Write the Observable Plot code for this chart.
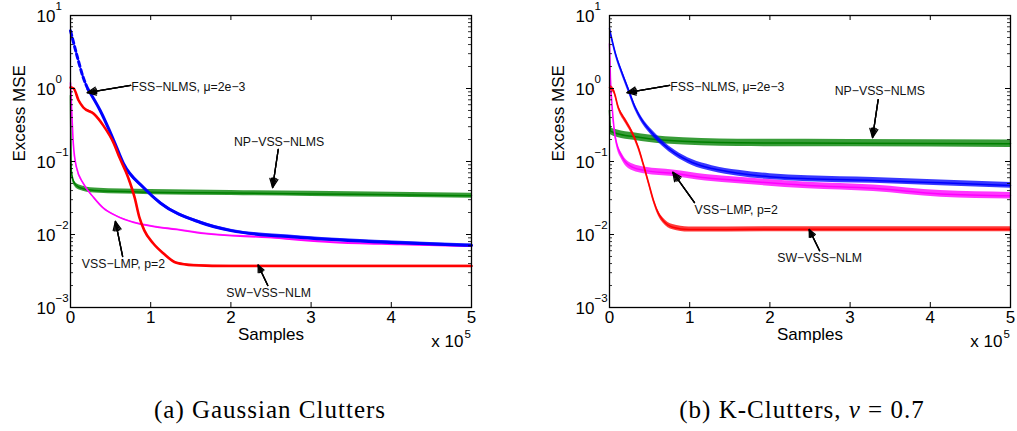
<!DOCTYPE html>
<html>
<head>
<meta charset="utf-8">
<script src="https://cdn.jsdelivr.net/npm/d3@7"></script>
<script src="https://cdn.jsdelivr.net/npm/@observablehq/plot@0.6"></script>
<style>
  body { margin: 0; background: #fff; }
  #fig { position: relative; width: 1017px; height: 431px; overflow: hidden; }
  .panel { position: absolute; top: 0; }
  .cap {
    position: absolute; top: 396px; transform: translateX(-50%);
    font-family: "Liberation Serif", "Times New Roman", serif;
    font-size: 25px; letter-spacing: 1px; white-space: nowrap; color: #000;
  }
</style>
</head>
<body>
<div id="fig">
  <div class="panel" id="pa" style="left:0px"></div>
  <div class="panel" id="pb" style="left:539px"></div>
  <div class="cap" style="left:270px">(a) Gaussian Clutters</div>
  <div class="cap" style="left:802px">(b) K-Clutters, <i>ν</i> = 0.7</div>
</div>
<script>
// Excess MSE learning curves: [sample index, excess MSE]

// (a) Gaussian clutters
const gaussNP = [[0,0.8],[1000,0.075],[5000,0.05],[11000,0.044],[30000,0.040],[100000,0.038],[200000,0.037],[300000,0.036],[400000,0.035],[500000,0.034]];
const gaussLMP = [[0,1.2],[1500,0.5],[3500,0.177],[7500,0.083],[16000,0.05],[29000,0.032],[41000,0.023],[57000,0.018],[79000,0.0146],[103000,0.0129],[132000,0.0117],[166000,0.0103],[246000,0.0091],[328000,0.0078],[411000,0.0073],[500000,0.0069]];
const gaussFSS = [[0,6.2],[8700,2.66],[16000,1.4],[22000,0.97],[37000,0.5],[54000,0.194],[66000,0.094],[91000,0.044],[112000,0.027],[162000,0.0146],[200000,0.0113],[287000,0.0091],[411000,0.0077],[500000,0.0071]];
const gaussSW = [[0,1.03],[4000,1.0],[10000,0.69],[16000,0.55],[29000,0.45],[41000,0.31],[54000,0.177],[61000,0.114],[72000,0.06],[80000,0.032],[86000,0.017],[92000,0.0114],[103000,0.0076],[116000,0.0055],[132000,0.0041],[153000,0.0038],[200000,0.0037],[300000,0.0037],[400000,0.0037],[500000,0.0037]];

// (b) K-clutters, nu = 0.7
const kNP = [[0,0.5],[1500,0.26],[10000,0.24],[30000,0.22],[70000,0.195],[160000,0.18],[300000,0.178],[500000,0.175]];
const kLMP = [[0,4.1],[1200,1.4],[3700,0.5],[7500,0.21],[16000,0.114],[29000,0.083],[45000,0.075],[79000,0.069],[120000,0.060],[161000,0.055],[247000,0.047],[329000,0.043],[413000,0.036],[500000,0.034]];
const kFSS = [[0,6.6],[7500,3.0],[16000,1.6],[24000,0.94],[32000,0.55],[41000,0.36],[54000,0.24],[66000,0.177],[82000,0.129],[103000,0.097],[128000,0.08],[161000,0.069],[200000,0.062],[247000,0.058],[329000,0.055],[413000,0.051],[500000,0.047]];
const kSW = [[0,1.03],[5000,0.94],[11000,0.55],[20000,0.36],[29000,0.24],[36000,0.155],[42000,0.094],[49000,0.05],[55000,0.029],[61000,0.0195],[67000,0.0155],[79000,0.0126],[99000,0.0117],[200000,0.0118],[300000,0.0118],[400000,0.0118],[500000,0.0118]];

// Callout labels [text, x, y] (centred) and their arrows [x1, y1, x2, y2]
const gaussLabels = [["FSS−NLMS, μ=2e−3",147000,1.06],["NP−VSS−NLMS",260000,0.182],["VSS−LMP, p=2",66000,0.0039],["SW−VSS−NLM",247000,0.00156]];
const gaussArrows = [[75000,1.1,21000,0.88],[259000,0.146,252000,0.044],[65000,0.005,56000,0.0151],[246000,0.002,234000,0.0038]];
const kLabels = [["FSS−NLMS, μ=2e−3",147000,1.06],["NP−VSS−NLMS",337000,0.91],["VSS−LMP, p=2",158000,0.0213],["SW−VSS−NLM",262000,0.0047]];
const kArrows = [[75000,1.1,22000,0.88],[335000,0.706,328000,0.213],[106000,0.0274,79000,0.071],[262000,0.006,249000,0.0117]];

// Axis ticks
const yDecades = [1e-3,1e-2,1e-1,1,10];
const yExponents = ["−3","−2","−1","0","1"];
const yMinor = [0.002,0.003,0.004,0.005,0.006,0.007,0.008,0.009,0.02,0.03,0.04,0.05,0.06,0.07,0.08,0.09,0.2,0.3,0.4,0.5,0.6,0.7,0.8,0.9,2,3,4,5,6,7,8,9];
const xTicks = [0,1e5,2e5,3e5,4e5,5e5];
const xTickLabels = ["0","1","2","3","4","5"];

const W = 478, H = 360, ML = 70, MR = 7, MT = 15, MB = 53;
const IW = W - ML - MR, IH = H - MT - MB;

function curveMarks(s) {
  const marks = [];
  const dashed = s.dashUntil ? s.data.filter(d => d[0] <= s.dashUntil) : [];
  const solid = s.dashUntil ? s.data.filter(d => d[0] >= s.dashUntil) : s.data;
  const k = Math.pow(10, s.spread);
  // noise envelope around the mean curve
  marks.push(Plot.areaY(solid, {x: d => d[0], y1: d => d[1] / k, y2: d => d[1] * k, fill: s.color, fillOpacity: 0.78, curve: "monotone-x"}));
  marks.push(Plot.line(solid, {x: d => d[0], y: d => d[1], stroke: s.color, strokeWidth: s.width, curve: "monotone-x"}));
  if (dashed.length) {
    marks.push(Plot.line(dashed, {x: d => d[0], y: d => d[1], stroke: s.color, strokeWidth: s.width, strokeDasharray: "5,3", curve: "monotone-x"}));
  }
  return marks;
}

function panel(series, labels, arrows) {
  const arrowOpts = angle => ({x1: d => d[0], y1: d => d[1], x2: d => d[2], y2: d => d[3], stroke: "black", strokeWidth: 1.3, headLength: 11, headAngle: angle});
  return Plot.plot({
    width: W, height: H,
    marginLeft: ML, marginRight: MR, marginTop: MT, marginBottom: MB,
    x: {domain: [0, 5e5], axis: null},
    y: {type: "log", domain: [1e-3, 10], axis: null},
    style: {fontFamily: "'Liberation Sans', Arial, sans-serif", background: "white", color: "black"},
    marks: [
      ...series.flatMap(curveMarks),
      Plot.frame({stroke: "black", strokeWidth: 1.3}),
      // inward ticks on all four sides
      Plot.tickY(yDecades, {y: d => d, insetRight: IW - 5, stroke: "black"}),
      Plot.tickY(yDecades, {y: d => d, insetLeft: IW - 5, stroke: "black"}),
      Plot.tickY(yMinor, {y: d => d, insetRight: IW - 3, stroke: "black", strokeWidth: 0.8}),
      Plot.tickY(yMinor, {y: d => d, insetLeft: IW - 3, stroke: "black", strokeWidth: 0.8}),
      Plot.tickX(xTicks.slice(1, -1), {x: d => d, insetTop: IH - 5, stroke: "black"}),
      Plot.tickX(xTicks.slice(1, -1), {x: d => d, insetBottom: IH - 5, stroke: "black"}),
      // tick labels
      Plot.text(yDecades, {y: d => d, frameAnchor: "left", text: () => "10", textAnchor: "end", dx: -15, dy: 1, fontSize: 17}),
      Plot.text(yDecades, {y: d => d, frameAnchor: "left", text: (d, i) => yExponents[i], textAnchor: "start", dx: -15, dy: -9, fontSize: 11.5}),
      Plot.text(xTicks, {x: d => d, frameAnchor: "bottom", text: (d, i) => xTickLabels[i], dy: 15, fontSize: 17}),
      Plot.text(["Samples"], {frameAnchor: "bottom", text: d => d, dy: 32, fontSize: 17}),
      Plot.text(["x 10"], {frameAnchor: "bottom-right", text: d => d, textAnchor: "end", dx: -8, dy: 39, fontSize: 17}),
      Plot.text(["5"], {frameAnchor: "bottom-right", text: d => d, textAnchor: "start", dx: -7, dy: 30, fontSize: 11.5}),
      Plot.text(["Excess MSE"], {frameAnchor: "left", text: d => d, rotate: -90, dx: -51, fontSize: 17}),
      // callouts
      Plot.text(labels, {x: d => d[1], y: d => d[2], text: d => d[0], fontSize: 12.3, fill: "#111"}),
      Plot.arrow(arrows, arrowOpts(50)),
      Plot.arrow(arrows, arrowOpts(32)),
      Plot.arrow(arrows, arrowOpts(16))
    ]
  });
}

const GREEN = "#008000", MAGENTA = "#ff00ff", BLUE = "#0000ff", RED = "#ff0000";

document.getElementById("pa").append(panel([
  {data: gaussNP, color: GREEN, width: 1.5, spread: 0.035},
  {data: gaussLMP, color: MAGENTA, width: 1.6, spread: 0.01},
  {data: gaussFSS, color: BLUE, width: 3, spread: 0.02, dashUntil: 22000},
  {data: gaussSW, color: RED, width: 2.6, spread: 0.012}
], gaussLabels, gaussArrows));

document.getElementById("pb").append(panel([
  {data: kNP, color: GREEN, width: 1.5, spread: 0.05},
  {data: kLMP, color: MAGENTA, width: 1.5, spread: 0.045},
  {data: kFSS, color: BLUE, width: 1.5, spread: 0.04},
  {data: kSW, color: RED, width: 1.5, spread: 0.035}
], kLabels, kArrows));
</script>
</body>
</html>
